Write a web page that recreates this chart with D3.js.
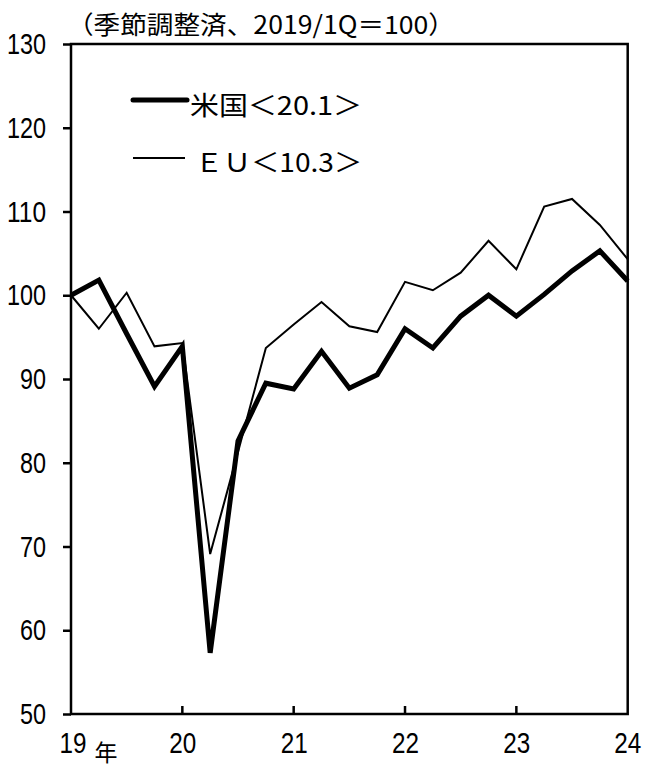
<!DOCTYPE html>
<html><head><meta charset="utf-8">
<script src="https://cdn.jsdelivr.net/npm/d3@7"></script>
<style>
html,body{margin:0;padding:0;background:#fff;}
svg{display:block;}
</style></head>
<body>
<svg id="chart" width="645" height="764"></svg>
<script>
// quarters 2019Q1 .. 2024Q1
const quarters = ["2019Q1","2019Q2","2019Q3","2019Q4","2020Q1","2020Q2","2020Q3","2020Q4",
  "2021Q1","2021Q2","2021Q3","2021Q4","2022Q1","2022Q2","2022Q3","2022Q4",
  "2023Q1","2023Q2","2023Q3","2023Q4","2024Q1"];
const usValues = [100.0,101.8,95.4,89.1,93.9,57.3,82.6,89.5,88.8,93.3,88.9,90.5,
  96.0,93.7,97.5,100.0,97.5,100.1,102.9,105.3,101.7];
const euValues = [100.0,96.0,100.3,93.9,94.3,69.1,81.3,93.7,96.5,99.2,96.3,95.6,
  101.6,100.6,102.7,106.5,103.1,110.6,111.5,108.4,104.3];
const yearLabels = ["19","20","21","22","23","24"];
const yTicks = [50,60,70,80,90,100,110,120,130];
const titleText = "（季節調整済、2019/1Q＝100）";
const legendUS = "米国＜20.1＞";
const legendEU = "ＥＵ＜10.3＞";

const svg = d3.select("#chart");
const pL = 71, pR = 627.7, pT = 44, pB = 714;
const x = d3.scaleLinear().domain([0, quarters.length - 1]).range([pL, pR]);
const y = d3.scaleLinear().domain([50, 130]).range([pB, pT]);

const numFont = "'Liberation Sans','DejaVu Sans',sans-serif";
const cjkFont = "'Noto Sans CJK JP','Noto Sans',sans-serif";
const digitW = 13;

// Y axis
const yAxis = d3.axisLeft(y).tickValues(yTicks).tickSize(8).tickPadding(18).tickFormat(d3.format("d"));
const gy = svg.append("g").attr("transform", `translate(${pL},0)`).call(yAxis);
gy.select(".domain").remove();
gy.selectAll(".tick line").attr("stroke", "#000").attr("stroke-width", 2.5);
gy.selectAll(".tick text").attr("font-family", numFont).attr("font-size", 30).attr("fill", "#000")
  .attr("x", -25)
  .attr("textLength", d => String(d).length * digitW).attr("lengthAdjust", "spacingAndGlyphs");

// X axis labels and inward ticks
const yearIdx = yearLabels.map((d, i) => i * 4);
const xAxis = d3.axisBottom(x).tickValues(yearIdx).tickSize(0).tickPadding(18)
  .tickFormat((d, i) => yearLabels[i]);
const gx = svg.append("g").attr("transform", `translate(0,${pB})`).call(xAxis);
gx.select(".domain").remove();
gx.selectAll(".tick text").attr("font-family", numFont).attr("font-size", 30).attr("fill", "#000")
  .attr("dx", (d, i) => i === 0 ? 1.5 : (i === yearLabels.length - 1 ? -0.5 : 0))
  .attr("textLength", (d, i) => yearLabels[i].length * digitW + 1).attr("lengthAdjust", "spacingAndGlyphs");
svg.append("g").selectAll("line").data(yearIdx.slice(1, -1)).join("line")
  .attr("x1", d => x(d)).attr("x2", d => x(d))
  .attr("y1", pB).attr("y2", pB - 8)
  .attr("stroke", "#000").attr("stroke-width", 2.5);

// frame
svg.append("rect").attr("x", pL).attr("y", pT).attr("width", pR - pL).attr("height", pB - pT)
  .attr("fill", "none").attr("stroke", "#000").attr("stroke-width", 2.5);

// 年
svg.append("text").attr("x", x(0) + 35).attr("y", 761).attr("text-anchor", "middle")
  .attr("font-family", cjkFont).attr("font-size", 23).attr("fill", "#000").text("年");

// lines
const line = d3.line().x((d, i) => x(i)).y(d => y(d));
svg.append("path").datum(euValues).attr("d", line).attr("fill", "none")
  .attr("stroke", "#000").attr("stroke-width", 2).attr("stroke-linejoin", "miter");
svg.append("path").datum(usValues).attr("d", line).attr("fill", "none")
  .attr("stroke", "#000").attr("stroke-width", 5).attr("stroke-linejoin", "miter");

// title
svg.append("text").attr("x", 67).attr("y", 23).attr("dominant-baseline", "central")
  .attr("font-family", cjkFont).attr("font-size", 25).attr("fill", "#000")
  .attr("textLength", 388).attr("lengthAdjust", "spacingAndGlyphs").text(titleText);

// legend
svg.append("line").attr("x1", 133).attr("x2", 187).attr("y1", 100).attr("y2", 100)
  .attr("stroke", "#000").attr("stroke-width", 5).attr("stroke-linecap", "round");
svg.append("text").attr("x", 190).attr("y", 103.5).attr("dominant-baseline", "central")
  .attr("font-family", cjkFont).attr("font-size", 26).attr("fill", "#000")
  .attr("textLength", 172).attr("lengthAdjust", "spacingAndGlyphs").text(legendUS);
svg.append("line").attr("x1", 133).attr("x2", 185).attr("y1", 158).attr("y2", 158)
  .attr("stroke", "#000").attr("stroke-width", 2);
svg.append("text").attr("x", 195).attr("y", 160).attr("dominant-baseline", "central")
  .attr("font-family", cjkFont).attr("font-size", 26).attr("fill", "#000")
  .attr("textLength", 167).attr("lengthAdjust", "spacingAndGlyphs").text(legendEU);
</script>
</body></html>
